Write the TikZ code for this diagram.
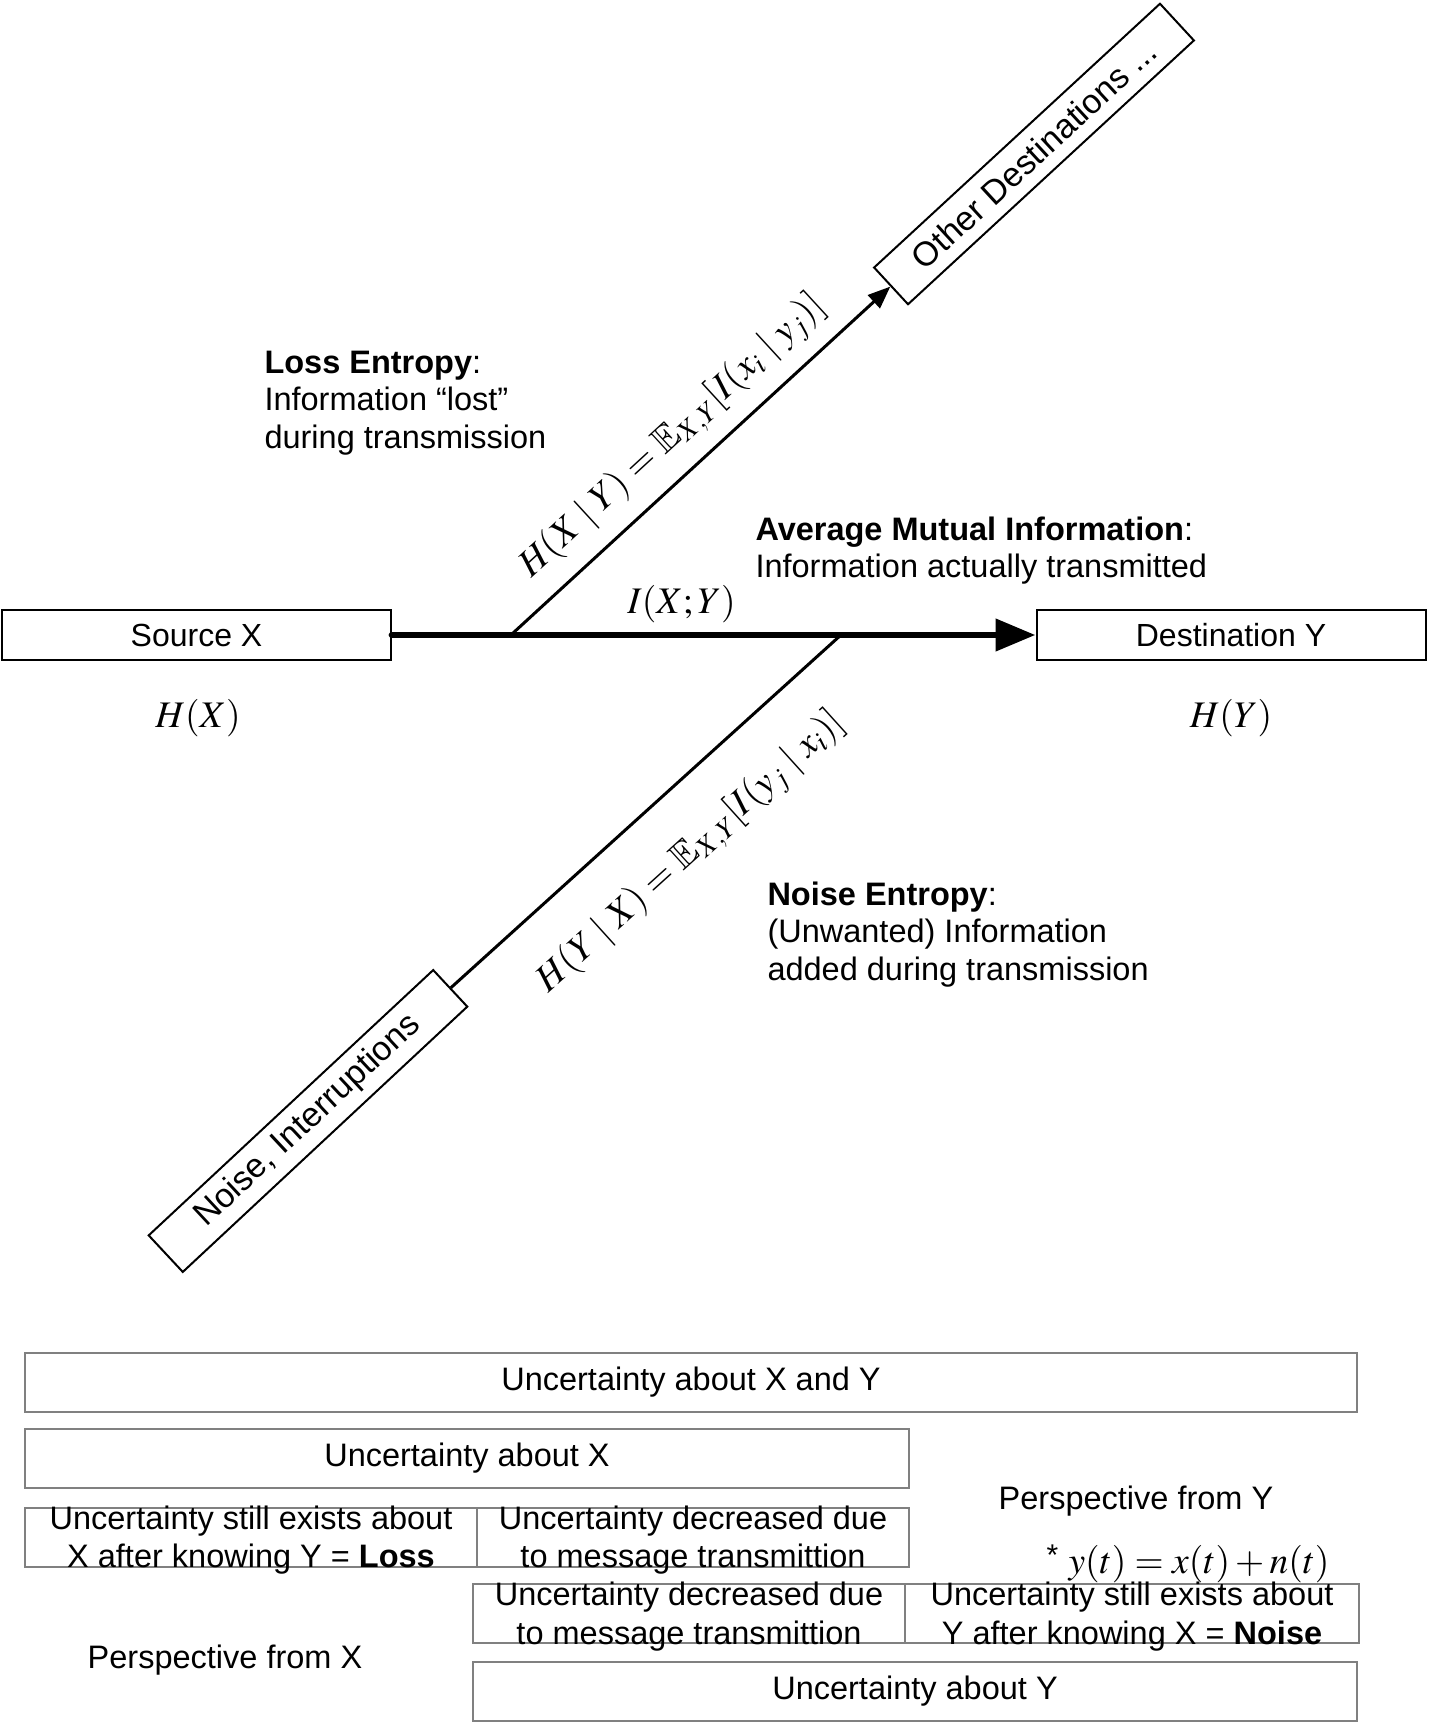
\documentclass[tikz,border=0pt]{standalone}
\usepackage{mathptmx}
\usepackage{amssymb}
\usepackage[no-math]{fontspec}
\setmainfont{Liberation Sans}
\usetikzlibrary{arrows.meta}

\newcommand{\stacktext}[2]{\raisebox{-4.8pt}[0pt][0pt]{\begin{tabular}{@{}c@{}}#1\\#2\end{tabular}}}

\tikzstyle{block} = [rectangle, draw, line width=0.8pt, minimum width=155.6pt, minimum height=20pt, inner sep=0pt, font=\fontsize{12.8}{15}\selectfont]
\tikzstyle{ubox} = [rectangle, draw=black!50, line width=0.8pt, minimum height=23.6pt, inner sep=0pt, align=center, font=\fontsize{13}{15.4}\selectfont]
\tikzstyle{note} = [align=left, anchor=west, inner sep=0pt, font=\fontsize{13}{15}\selectfont]
\tikzstyle{formula} = [inner sep=0pt, font=\fontsize{15}{18}\selectfont]
\tikzstyle{link} = [line width=1.2pt]

\begin{document}
\begin{tikzpicture}[x=0.4pt, y=-0.4pt]
        \useasboundingbox (0,0) rectangle (1428,1724);
        % Source and destination of the channel
        \node (src) at (196.5,635) [block] {Source X};
        \node (dst) at (1231,635) [block] {Destination Y};
        \node (hx) at (198,718) [formula] {$H(X)$};
        \node (hy) at (1231,718) [formula] {$H(Y)$};
        % Tilted boxes
        \node (other) at (1034,154) [block, rotate=42.7, font=\fontsize{13.6}{16}\selectfont] {Other Destinations ...};
        \node (noise) at (308,1121) [block, rotate=43, font=\fontsize{13.6}{16}\selectfont] {Noise, Interruptions};
        \coordinate (lossfork) at (512,634);
        \coordinate (noisefork) at (842,634);
        % Main channel
        \draw[line width=2.7pt, line cap=round, -{Triangle[length=16pt,width=12.5pt]}] (src.east) -- node[formula, above=3.5pt, pos=0.45] (ixy) {$I(X;Y)$} (dst.west);
        \draw[link, -{Triangle[length=9pt,width=7pt]}] (lossfork) -- node[formula, sloped, above=6pt, pos=0.49] (hxy) {$H(X\mid Y) = \mathbb{E}_{X,Y}[I(x_i\mid y_j)]$} (other.west);
        \draw[link] (noise.east) -- node[formula, sloped, below=16pt, pos=0.51] (hyx) {$H(Y\mid X) = \mathbb{E}_{X,Y}[I(y_j\mid x_i)]$} (noisefork);
        % Explanations
        \node (loss) at (264,403) [note] {\textbf{Loss Entropy}:\\ Information “lost”\\ during transmission};
        \node (ami) at (755,550.5) [note] {\textbf{Average Mutual Information}:\\ Information actually transmitted};
        \node (noisetxt) at (767,934.5) [note] {\textbf{Noise Entropy}:\\ (Unwanted) Information\\ added during transmission};
        % Uncertainty table
        \node (uxy) at (691,1382) [ubox, minimum width=532.4pt] {Uncertainty about X and Y};
        \node (ux) at (467,1458.5) [ubox, minimum width=353.6pt] {Uncertainty about X};
        \node (lossbox) at (251,1537) [ubox, minimum width=180.8pt] {\stacktext{Uncertainty still exists about}{X after knowing Y = \textbf{Loss}}};
        \node (decx) at (693,1537) [ubox, minimum width=172.8pt] {\stacktext{Uncertainty decreased due}{to message transmittion}};
        \node (decy) at (689,1613.5) [ubox, minimum width=172.8pt] {\stacktext{Uncertainty decreased due}{to message transmittion}};
        \node (noisebox) at (1132,1613.5) [ubox, minimum width=181.6pt] {\stacktext{Uncertainty still exists about}{Y after knowing X = \textbf{Noise}}};
        \node (uy) at (915,1691) [ubox, minimum width=353.6pt] {Uncertainty about Y};
        \node (px) at (225,1660) [note, anchor=center] {Perspective from X};
        \node (py) at (1136,1501) [note, anchor=center] {Perspective from Y};
        \node (sum) at (1188,1564) [formula] {\raisebox{3pt}{\fontsize{12}{14}\selectfont *} $y(t) = x(t) + n(t)$};
\end{tikzpicture}
\end{document}
